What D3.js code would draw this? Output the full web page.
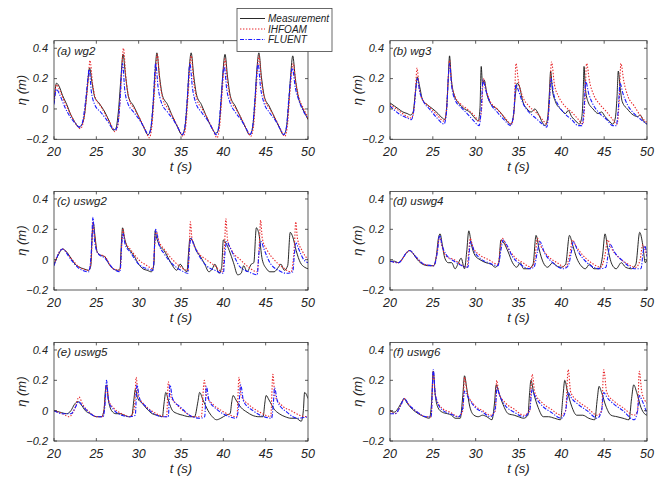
<!DOCTYPE html>
<html>
<head>
<meta charset="utf-8">
<title>Free surface elevation</title>
<style>
  body { margin: 0; background: #fff; }
  svg text { font-family: "Liberation Sans", Arial, sans-serif; font-style: italic; fill: #222; }
  .box { fill: none; stroke: #333; stroke-width: 0.8; }
  .tick { stroke: #333; stroke-width: 0.8; }
  .meas { fill: none; stroke: #111; stroke-width: 0.9; }
  .ihf { fill: none; stroke: #e8262a; stroke-width: 1.1; stroke-dasharray: 1.4,1.6; }
  .flu { fill: none; stroke: #1a1aff; stroke-width: 1.1; stroke-dasharray: 4,1.5,1.2,1.5; }
</style>
</head>
<body>
<svg width="669" height="485"></svg>
<script src="https://cdnjs.cloudflare.com/ajax/libs/d3/7.8.5/d3.min.js"></script>
<script>
// axis settings
var xTicks = [20, 25, 30, 35, 40, 45, 50];
var yTicks = [-0.2, 0, 0.2, 0.4];
var seriesNames = ["Measurement", "IHFOAM", "FLUENT"];
var panelTitles = ["(a) wg2", "(b) wg3", "(c) uswg2", "(d) uswg4", "(e) uswg5", "(f) uswg6"];

// (a) wg2
var wg2_meas = [[20,0.04],[20.3,0.17],[20.6,0.15],[21,0.09],[21.5,0.03],[22,-0.04],[22.5,-0.09],[22.9,-0.12],[23.2,-0.11],[23.6,-0.04],[23.9,0.12],[24.2,0.27],[24.5,0.17],[24.8,0.08],[25.3,0.04],[26,-0.02],[26.6,-0.09],[27,-0.14],[27.3,-0.13],[27.6,-0.02],[27.9,0.2],[28.15,0.36],[28.45,0.22],[28.8,0.08],[29.4,0.02],[30,-0.05],[30.6,-0.12],[31.1,-0.17],[31.4,-0.14],[31.7,0.02],[31.95,0.25],[32.15,0.37],[32.45,0.22],[32.8,0.09],[33.4,0.03],[34,-0.05],[34.6,-0.12],[35.1,-0.17],[35.4,-0.14],[35.7,0.02],[35.95,0.25],[36.2,0.37],[36.5,0.22],[36.85,0.09],[37.4,0.03],[38,-0.05],[38.6,-0.12],[39.1,-0.16],[39.4,-0.14],[39.7,0.02],[39.95,0.24],[40.2,0.36],[40.5,0.21],[40.85,0.08],[41.4,0.02],[42,-0.05],[42.6,-0.12],[43.1,-0.17],[43.4,-0.14],[43.7,0.02],[43.95,0.25],[44.2,0.37],[44.5,0.21],[44.85,0.08],[45.4,0.02],[46,-0.05],[46.6,-0.12],[47.1,-0.17],[47.4,-0.14],[47.7,0.02],[47.95,0.22],[48.2,0.35],[48.5,0.2],[48.85,0.08],[49.4,0.0],[50,-0.07]];
var wg2_ihf = [[20,0.05],[20.3,0.16],[20.7,0.12],[21.3,0.04],[22,-0.04],[22.6,-0.1],[23.1,-0.13],[23.4,-0.1],[23.8,0.05],[24.05,0.2],[24.25,0.32],[24.55,0.17],[24.9,0.07],[25.5,0.02],[26.2,-0.05],[26.8,-0.11],[27.2,-0.15],[27.5,-0.12],[27.8,0.05],[28.0,0.25],[28.2,0.4],[28.5,0.2],[28.9,0.06],[29.5,0.0],[30.2,-0.07],[30.8,-0.14],[31.25,-0.19],[31.55,-0.12],[31.85,0.1],[32.2,0.36],[32.5,0.18],[32.9,0.06],[33.5,0.0],[34.2,-0.07],[34.8,-0.14],[35.25,-0.18],[35.55,-0.12],[35.85,0.1],[36.2,0.35],[36.5,0.18],[36.9,0.06],[37.5,0.0],[38.2,-0.07],[38.8,-0.14],[39.25,-0.19],[39.55,-0.12],[39.85,0.1],[40.2,0.33],[40.5,0.17],[40.9,0.06],[41.5,0.0],[42.2,-0.07],[42.8,-0.14],[43.25,-0.18],[43.55,-0.12],[43.85,0.1],[44.2,0.35],[44.5,0.18],[44.9,0.06],[45.5,0.0],[46.2,-0.07],[46.8,-0.14],[47.25,-0.18],[47.55,-0.12],[47.85,0.1],[48.25,0.3],[48.55,0.18],[48.95,0.07],[49.5,0.0],[50,-0.06]];
var wg2_flu = [[20,0.03],[20.3,0.13],[20.7,0.09],[21.3,0.01],[22,-0.06],[22.6,-0.1],[23.0,-0.12],[23.3,-0.1],[23.7,0.04],[24.0,0.2],[24.15,0.26],[24.4,0.12],[24.8,0.03],[25.5,-0.02],[26.2,-0.07],[26.8,-0.12],[27.2,-0.14],[27.5,-0.11],[27.8,0.06],[28.0,0.26],[28.1,0.3],[28.35,0.13],[28.7,0.04],[29.4,-0.02],[30.2,-0.08],[30.8,-0.14],[31.15,-0.17],[31.45,-0.12],[31.75,0.08],[32.0,0.3],[32.3,0.14],[32.7,0.04],[33.4,-0.02],[34.2,-0.08],[34.8,-0.14],[35.15,-0.17],[35.45,-0.12],[35.75,0.08],[36.05,0.3],[36.35,0.14],[36.75,0.04],[37.4,-0.02],[38.2,-0.08],[38.8,-0.14],[39.15,-0.17],[39.45,-0.12],[39.75,0.08],[40.1,0.28],[40.4,0.13],[40.8,0.04],[41.4,-0.02],[42.2,-0.08],[42.8,-0.14],[43.15,-0.17],[43.45,-0.12],[43.75,0.08],[44.1,0.3],[44.4,0.14],[44.8,0.04],[45.4,-0.02],[46.2,-0.08],[46.8,-0.14],[47.15,-0.17],[47.45,-0.12],[47.75,0.08],[48.15,0.27],[48.5,0.14],[48.9,0.06],[49.5,-0.02],[50,-0.06]];

// (b) wg3
var wg3_meas = [[20,0.04],[20.5,0.02],[21,0.0],[21.5,-0.02],[22,-0.03],[22.4,-0.04],[22.7,-0.02],[22.95,0.1],[23.2,0.21],[23.45,0.15],[23.8,0.06],[24.3,0.03],[25,0.0],[25.6,-0.03],[26.1,-0.06],[26.4,-0.07],[26.6,0.0],[26.8,0.2],[26.95,0.35],[27.15,0.2],[27.5,0.09],[28,0.04],[28.7,0.0],[29.3,-0.02],[29.9,-0.06],[30.3,-0.08],[30.5,0.0],[30.65,0.28],[30.8,0.16],[31.0,0.19],[31.3,0.1],[31.8,0.03],[32.5,0.0],[33,-0.03],[33.5,-0.07],[34.1,-0.1],[34.4,-0.05],[34.65,0.1],[34.85,0.17],[35.1,0.15],[35.5,0.05],[36.0,0.0],[36.5,-0.02],[36.9,0.0],[37.3,-0.03],[37.8,-0.09],[38.1,-0.11],[38.4,-0.06],[38.6,0.1],[38.75,0.25],[38.95,0.13],[39.3,0.05],[39.9,0.0],[40.5,-0.03],[40.8,-0.01],[41.2,-0.05],[41.7,-0.08],[42.1,-0.1],[42.4,-0.05],[42.55,0.1],[42.65,0.28],[42.8,0.14],[43.1,0.05],[43.7,0.0],[44.3,-0.03],[44.7,-0.02],[45.1,-0.05],[45.6,-0.08],[46.0,-0.1],[46.3,-0.06],[46.5,0.08],[46.65,0.25],[46.85,0.15],[47.1,0.05],[47.7,0.0],[48.4,-0.04],[48.9,-0.05],[49.2,-0.04],[49.6,-0.08],[50,-0.1]];
var wg3_ihf = [[20,0.03],[21,-0.01],[22,-0.05],[22.5,-0.06],[22.8,0.0],[23.0,0.15],[23.15,0.27],[23.4,0.14],[23.8,0.06],[24.5,0.02],[25.5,-0.04],[26.3,-0.08],[26.6,0.0],[26.8,0.2],[26.95,0.32],[27.2,0.17],[27.6,0.08],[28.3,0.03],[29,0.0],[29.8,-0.04],[30.4,-0.08],[30.7,0.0],[30.9,0.2],[31.2,0.13],[31.7,0.05],[32.5,0.0],[33.3,-0.05],[34.2,-0.1],[34.5,0.0],[34.7,0.3],[35.0,0.18],[35.5,0.08],[36.2,0.02],[37,-0.02],[37.8,-0.07],[38.3,-0.1],[38.6,0.05],[38.85,0.31],[39.2,0.16],[39.7,0.08],[40.4,0.02],[41.2,-0.02],[42.0,-0.07],[42.5,-0.1],[42.75,0.05],[42.95,0.3],[43.3,0.18],[43.8,0.09],[44.5,0.03],[45.3,-0.02],[46.0,-0.07],[46.5,-0.1],[46.75,0.05],[46.95,0.3],[47.3,0.18],[47.8,0.08],[48.5,0.02],[49.3,-0.05],[50,-0.09]];
var wg3_flu = [[20,0.02],[21,-0.03],[22,-0.06],[22.5,-0.07],[22.8,0.0],[23.05,0.15],[23.2,0.2],[23.45,0.12],[23.9,0.05],[24.6,0.0],[25.5,-0.06],[26.3,-0.1],[26.6,-0.02],[26.8,0.2],[26.95,0.3],[27.2,0.15],[27.6,0.06],[28.3,0.01],[29,-0.03],[29.8,-0.08],[30.4,-0.11],[30.65,0.0],[30.85,0.19],[31.2,0.12],[31.7,0.04],[32.5,-0.02],[33.3,-0.07],[34.1,-0.11],[34.45,-0.02],[34.7,0.16],[35.0,0.12],[35.5,0.04],[36.2,-0.02],[37,-0.06],[37.8,-0.1],[38.3,-0.12],[38.55,0.0],[38.8,0.2],[39.1,0.1],[39.6,0.03],[40.4,-0.03],[41.2,-0.07],[42.0,-0.11],[42.4,-0.11],[42.65,0.0],[42.85,0.18],[43.2,0.1],[43.7,0.03],[44.5,-0.03],[45.3,-0.07],[46.0,-0.11],[46.4,-0.11],[46.65,0.0],[46.85,0.17],[47.2,0.1],[47.7,0.03],[48.5,-0.03],[49.3,-0.07],[50,-0.1]];

// (c) uswg2
var uswg2_meas = [[20,-0.03],[20.5,0.03],[21,0.07],[21.5,0.05],[22,0.01],[22.5,-0.03],[23,-0.05],[23.5,-0.06],[24.1,-0.07],[24.35,-0.04],[24.5,0.15],[24.65,0.24],[24.85,0.15],[25.1,0.05],[25.5,0.03],[26,0.02],[26.5,-0.03],[27,-0.06],[27.5,-0.07],[27.8,-0.06],[27.95,0.1],[28.1,0.21],[28.3,0.15],[28.6,0.09],[29,0.06],[29.5,0.02],[30,-0.03],[30.5,-0.06],[31,-0.07],[31.5,-0.08],[31.8,-0.03],[31.95,0.19],[32.1,0.15],[32.4,0.1],[33,0.06],[33.6,0.0],[34,-0.04],[34.5,-0.07],[34.9,-0.03],[35.3,-0.06],[35.7,-0.08],[35.9,0.05],[36.05,0.14],[36.4,0.12],[36.8,0.06],[37.3,0.02],[37.8,-0.03],[38.3,-0.08],[38.7,-0.06],[39,-0.03],[39.5,-0.09],[39.8,-0.05],[40.0,0.13],[40.3,0.11],[40.7,0.06],[41.2,-0.02],[41.7,-0.1],[42.1,-0.09],[42.4,-0.04],[42.8,-0.08],[43.3,-0.03],[43.6,-0.02],[43.9,0.21],[44.2,0.17],[44.6,0.0],[45.1,-0.06],[45.5,-0.08],[46,-0.08],[46.5,-0.05],[46.8,-0.03],[47.2,-0.07],[47.6,-0.04],[47.9,0.18],[48.2,0.15],[48.6,0.06],[49.1,-0.02],[49.6,-0.05],[50,-0.06]];
var uswg2_ihf = [[20,-0.03],[21,0.07],[22,0.01],[23,-0.05],[24.1,-0.07],[24.4,0.0],[24.6,0.25],[24.8,0.15],[25.2,0.04],[26,0.02],[27,-0.06],[27.8,-0.07],[28.0,0.1],[28.15,0.2],[28.4,0.12],[29,0.07],[30,0.0],[31,-0.04],[31.7,-0.06],[31.9,0.1],[32.05,0.19],[32.4,0.12],[33,0.07],[34,0.0],[35,-0.05],[35.8,-0.07],[36.0,0.1],[36.1,0.25],[36.3,0.14],[37,0.05],[38,0.0],[39,-0.04],[39.9,-0.08],[40.15,0.1],[40.3,0.27],[40.5,0.13],[41,0.06],[42,0.0],[43,-0.05],[44,-0.08],[44.25,0.1],[44.4,0.26],[44.6,0.14],[45.2,0.06],[46,0.0],[47,-0.05],[48,-0.08],[48.4,0.1],[48.55,0.25],[48.75,0.14],[49.3,0.06],[50,0.0]];
var uswg2_flu = [[20,-0.04],[21,0.07],[22,0.0],[23,-0.06],[24.1,-0.08],[24.4,0.05],[24.6,0.28],[24.8,0.12],[25.2,0.04],[26,0.01],[27,-0.06],[27.8,-0.08],[28.0,0.1],[28.15,0.17],[28.4,0.1],[29,0.05],[30,-0.03],[31,-0.06],[31.7,-0.07],[31.9,0.12],[32.0,0.2],[32.4,0.1],[33,0.04],[34,-0.03],[35,-0.07],[35.8,-0.09],[36.0,0.08],[36.2,0.14],[36.5,0.1],[37,0.04],[38,-0.04],[39,-0.07],[40.0,-0.09],[40.2,0.05],[40.4,0.12],[40.7,0.09],[41.3,0.02],[42,-0.05],[43,-0.08],[44,-0.1],[44.2,0.04],[44.45,0.12],[44.8,0.07],[45.5,-0.02],[46.5,-0.07],[47.5,-0.09],[48.2,-0.08],[48.4,0.04],[48.6,0.11],[48.9,0.07],[49.5,0.0],[50,-0.02]];

// (d) uswg4
var uswg4_meas = [[20,-0.01],[20.5,-0.01],[21,-0.02],[21.5,0.01],[22,0.05],[22.3,0.06],[22.7,0.04],[23.2,0.0],[23.8,-0.03],[24.5,-0.04],[25.1,-0.04],[25.4,0.02],[25.65,0.14],[25.85,0.17],[26.1,0.1],[26.4,0.01],[26.8,-0.02],[27.2,-0.02],[27.6,-0.06],[28.0,-0.02],[28.3,0.01],[28.7,-0.06],[28.95,0.05],[29.2,0.19],[29.5,0.1],[29.9,0.03],[30.5,0.0],[31.2,-0.02],[31.8,-0.03],[32.3,-0.05],[32.7,-0.02],[32.95,0.13],[33.3,0.11],[33.8,0.05],[34.3,-0.02],[34.8,-0.05],[35.2,-0.02],[35.6,-0.06],[36.2,-0.06],[36.7,-0.03],[37.05,0.16],[37.4,0.07],[37.9,-0.02],[38.4,-0.05],[39,-0.02],[39.4,-0.04],[40.0,-0.05],[40.5,-0.03],[40.95,0.16],[41.3,0.1],[41.8,0.01],[42.3,-0.04],[42.8,-0.06],[43.3,-0.03],[43.8,-0.06],[44.4,-0.06],[44.8,0.02],[45.1,0.17],[45.4,0.08],[45.9,-0.03],[46.4,-0.06],[47.0,-0.02],[47.5,-0.05],[48.2,-0.06],[48.7,-0.03],[49.15,0.18],[49.5,0.1],[49.8,-0.02],[50,0.0]];
var uswg4_ihf = [[20,-0.01],[21,-0.02],[22,0.05],[22.3,0.06],[23,0.02],[24,-0.03],[25.1,-0.04],[25.5,0.05],[25.8,0.15],[26.1,0.08],[26.6,0.02],[27.5,0.0],[28.5,-0.04],[29.0,-0.05],[29.2,0.06],[29.35,0.14],[29.7,0.08],[30.5,0.03],[31.5,0.0],[32.6,-0.03],[32.9,0.08],[33.1,0.14],[33.6,0.09],[34.5,0.02],[35.5,-0.02],[36.5,-0.05],[36.9,0.0],[37.2,0.14],[37.6,0.09],[38.5,0.02],[39.5,-0.02],[40.5,-0.05],[41.0,0.04],[41.3,0.13],[41.7,0.09],[42.5,0.03],[43.5,-0.02],[44.6,-0.05],[45.1,0.03],[45.4,0.13],[45.8,0.08],[46.6,0.02],[47.5,-0.02],[48.7,-0.05],[49.2,0.0],[49.5,0.1],[49.8,0.06],[50,0.02]];
var uswg4_flu = [[20,-0.01],[21,-0.02],[22,0.05],[22.3,0.06],[23,0.02],[24,-0.03],[25.1,-0.04],[25.5,0.04],[25.8,0.16],[26.1,0.09],[26.6,0.03],[27.5,-0.01],[28.4,-0.04],[29.1,-0.05],[29.25,0.05],[29.4,0.12],[29.8,0.06],[30.5,0.01],[31.5,-0.02],[32.6,-0.04],[33.0,0.08],[33.2,0.13],[33.6,0.1],[34.3,0.02],[35.2,-0.03],[36.3,-0.06],[36.8,-0.05],[37.2,0.05],[37.5,0.12],[38,0.05],[39,-0.02],[40.3,-0.06],[40.8,-0.04],[41.2,0.06],[41.4,0.12],[41.9,0.06],[43,-0.02],[44.5,-0.06],[45.2,-0.05],[45.5,0.05],[45.7,0.1],[46.2,0.05],[47.2,-0.01],[48.5,-0.06],[49.3,-0.06],[49.55,0.05],[49.75,0.09],[50,0.02]];

// (e) uswg5
var uswg5_meas = [[20,0.0],[20.7,-0.01],[21.5,-0.02],[22.0,0.0],[22.4,0.04],[22.8,0.06],[23.2,0.04],[23.7,0.0],[24.3,-0.02],[25,-0.04],[25.6,-0.04],[25.9,0.0],[26.05,0.12],[26.2,0.17],[26.4,0.08],[26.8,0.0],[27.3,-0.02],[27.8,-0.02],[28.3,-0.03],[28.8,-0.04],[29.2,-0.03],[29.45,0.08],[29.6,0.14],[29.9,0.08],[30.4,0.05],[31,0.01],[31.6,-0.02],[32.2,-0.03],[32.8,-0.04],[33.0,0.05],[33.2,0.12],[33.5,0.07],[34,0.0],[34.6,-0.02],[35.2,-0.03],[36,-0.04],[36.6,-0.04],[37.0,0.06],[37.2,0.12],[37.6,0.07],[38.2,0.0],[38.7,-0.04],[39.2,-0.06],[39.7,-0.05],[40.3,-0.03],[40.8,-0.02],[41.0,0.06],[41.15,0.1],[41.5,0.07],[42.1,0.02],[42.8,-0.01],[43.4,-0.03],[44.2,-0.04],[44.7,-0.04],[44.9,0.05],[45.05,0.1],[45.4,0.07],[46,0.01],[46.6,-0.02],[47.3,-0.04],[48,-0.05],[48.6,-0.05],[49.2,-0.07],[49.45,0.0],[49.6,0.12],[50,0.08]];
var uswg5_ihf = [[20,0.0],[21,-0.02],[21.8,-0.04],[22.5,0.02],[22.95,0.09],[23.4,0.04],[24.2,-0.01],[25,-0.04],[25.7,-0.04],[26.0,0.05],[26.2,0.17],[26.5,0.06],[27,0.02],[28,-0.02],[29,-0.04],[29.5,0.02],[29.7,0.22],[29.95,0.1],[30.5,0.05],[31.5,0.0],[32.5,-0.03],[33.3,-0.04],[33.5,0.19],[33.75,0.1],[34.5,0.04],[35.5,-0.01],[36.5,-0.04],[37.4,-0.04],[37.75,0.2],[38.0,0.1],[38.8,0.04],[39.8,0.0],[40.8,-0.03],[41.6,-0.04],[41.85,0.22],[42.1,0.1],[43,0.04],[44,0.0],[45,-0.03],[45.6,-0.04],[45.85,0.24],[46.1,0.1],[47,0.03],[48,0.0],[49,-0.03],[50,-0.04]];
var uswg5_flu = [[20,0.0],[21,-0.02],[22,-0.02],[22.6,0.03],[22.9,0.06],[23.4,0.03],[24.3,-0.02],[25.2,-0.04],[25.8,-0.04],[26.05,0.06],[26.2,0.2],[26.45,0.06],[27,0.01],[28,-0.03],[29,-0.04],[29.6,-0.03],[29.8,0.17],[30.1,0.08],[30.8,0.03],[31.8,-0.02],[32.8,-0.04],[33.5,-0.04],[33.7,0.17],[34.0,0.08],[35,0.02],[36,-0.03],[37.2,-0.05],[37.8,-0.04],[38.0,0.16],[38.3,0.07],[39.2,0.01],[40.3,-0.03],[41.5,-0.05],[41.85,0.04],[42.05,0.17],[42.4,0.06],[43.5,0.0],[44.8,-0.04],[45.7,-0.05],[45.9,0.04],[46.05,0.15],[46.4,0.06],[47.5,-0.01],[48.8,-0.05],[50,-0.04]];

// (f) uswg6
var uswg6_meas = [[20,0.0],[20.5,-0.01],[21,0.02],[21.4,0.06],[21.65,0.08],[22,0.05],[22.6,0.01],[23.3,-0.02],[24,-0.04],[24.6,-0.05],[24.85,0.05],[25.05,0.26],[25.25,0.12],[25.6,0.02],[26.1,-0.01],[26.7,-0.02],[27.2,-0.03],[27.6,-0.05],[28.2,-0.05],[28.5,0.1],[28.7,0.23],[28.95,0.15],[29.3,0.03],[29.8,-0.03],[30.3,-0.04],[30.8,-0.03],[31.3,-0.04],[31.9,-0.06],[32.2,0.05],[32.4,0.17],[32.7,0.12],[33.2,0.04],[33.8,-0.02],[34.5,-0.03],[35,-0.04],[35.6,-0.05],[36.1,-0.03],[36.3,0.12],[36.45,0.2],[36.8,0.11],[37.3,0.02],[37.9,-0.04],[38.5,-0.04],[39.2,-0.05],[39.9,-0.06],[40.2,0.1],[40.4,0.2],[40.7,0.13],[41.2,0.03],[41.8,-0.03],[42.5,-0.03],[43.2,-0.05],[43.9,-0.06],[44.2,0.08],[44.4,0.16],[44.7,0.12],[45.2,0.03],[45.8,-0.03],[46.5,-0.04],[47.2,-0.05],[47.9,-0.06],[48.2,0.08],[48.45,0.17],[48.8,0.12],[49.3,0.02],[49.7,-0.02],[50,-0.03]];
var uswg6_ihf = [[20,0.0],[20.6,-0.02],[21.3,0.04],[21.65,0.08],[22.2,0.04],[23.2,-0.01],[24.2,-0.04],[24.8,-0.04],[25.05,0.26],[25.3,0.1],[26,0.02],[27,-0.01],[28,-0.04],[28.5,0.0],[28.7,0.22],[29,0.12],[29.8,0.04],[30.8,0.0],[31.8,-0.03],[32.3,0.0],[32.45,0.2],[32.7,0.12],[33.5,0.05],[34.5,0.01],[35.6,-0.03],[36.3,0.0],[36.6,0.24],[36.9,0.12],[37.8,0.05],[38.8,0.01],[40,-0.03],[40.5,0.0],[40.8,0.27],[41.1,0.12],[42,0.06],[43,0.02],[44.2,-0.03],[44.7,0.0],[44.95,0.27],[45.3,0.12],[46.2,0.06],[47.2,0.02],[48.5,-0.03],[48.9,0.0],[49.1,0.26],[49.4,0.12],[50,0.05]];
var uswg6_flu = [[20,-0.02],[20.6,-0.02],[21.3,0.04],[21.65,0.08],[22.2,0.04],[23.2,-0.01],[24.2,-0.04],[24.8,-0.04],[25.05,0.27],[25.3,0.1],[26,0.01],[27,-0.02],[28,-0.04],[28.5,0.02],[28.7,0.13],[29,0.1],[29.8,0.03],[30.8,-0.01],[31.8,-0.04],[32.3,0.02],[32.5,0.15],[32.8,0.1],[33.5,0.03],[34.5,-0.01],[35.6,-0.04],[36.3,0.0],[36.6,0.14],[36.9,0.1],[37.8,0.03],[38.8,-0.01],[40,-0.05],[40.5,0.0],[40.8,0.12],[41.1,0.09],[42,0.04],[43,0.0],[44.2,-0.05],[44.7,0.0],[44.95,0.12],[45.3,0.09],[46.2,0.04],[47.2,0.0],[48.5,-0.06],[48.9,0.0],[49.1,0.1],[49.4,0.07],[50,-0.02]];

var panelData = [
  [wg2_meas, wg2_ihf, wg2_flu],
  [wg3_meas, wg3_ihf, wg3_flu],
  [uswg2_meas, uswg2_ihf, uswg2_flu],
  [uswg4_meas, uswg4_ihf, uswg4_flu],
  [uswg5_meas, uswg5_ihf, uswg5_flu],
  [uswg6_meas, uswg6_ihf, uswg6_flu]
];

var svg = d3.select("svg");
var classes = ["meas", "ihf", "flu"];

// plot box geometry
var colLeft = [54, 390], colWidth = [254, 257];
var rowBottom = [139.3, 290, 441];
var pxPerUnit = 151.7;

panelData.forEach(function(series, i) {
  var col = i % 2, row = Math.floor(i / 2);
  var left = colLeft[col], right = left + colWidth[col];
  var bottom = rowBottom[row], top = bottom - 0.65 * pxPerUnit;

  var x = d3.scaleLinear().domain([20, 50]).range([left, right]);
  var y = d3.scaleLinear().domain([-0.2, 0.45]).range([bottom, top]);

  var g = svg.append("g");

  g.append("clipPath").attr("id", "clip" + i)
    .append("rect").attr("x", left).attr("y", top)
    .attr("width", right - left).attr("height", bottom - top);

  var line = d3.line()
    .x(function(d) { return x(d[0]); })
    .y(function(d) { return y(d[1]); })
    .curve(d3.curveMonotoneX);

  series.forEach(function(s, k) {
    g.append("path")
      .datum(s)
      .attr("class", classes[k])
      .attr("clip-path", "url(#clip" + i + ")")
      .attr("d", line);
  });

  g.append("rect").attr("class", "box")
    .attr("x", left).attr("y", top)
    .attr("width", right - left).attr("height", bottom - top);

  // inward ticks on all sides
  xTicks.forEach(function(t) {
    g.append("line").attr("class", "tick")
      .attr("x1", x(t)).attr("x2", x(t)).attr("y1", bottom).attr("y2", bottom - 3);
    g.append("line").attr("class", "tick")
      .attr("x1", x(t)).attr("x2", x(t)).attr("y1", top).attr("y2", top + 3);
    g.append("text")
      .attr("x", x(t)).attr("y", bottom + 16.5)
      .attr("text-anchor", "middle")
      .style("font-size", "12.5px")
      .text(t);
  });
  yTicks.forEach(function(t) {
    g.append("line").attr("class", "tick")
      .attr("x1", left).attr("x2", left + 3).attr("y1", y(t)).attr("y2", y(t));
    g.append("line").attr("class", "tick")
      .attr("x1", right).attr("x2", right - 3).attr("y1", y(t)).attr("y2", y(t));
    g.append("text")
      .attr("x", left - 6).attr("y", y(t)).attr("dy", "0.35em")
      .attr("text-anchor", "end")
      .style("font-size", "11px")
      .text(t === 0 ? "0" : d3.format(".1f")(t));
  });

  g.append("text")
    .attr("x", (left + right) / 2).attr("y", bottom + 32)
    .attr("text-anchor", "middle")
    .style("font-size", "13px")
    .text("t (s)");

  g.append("text")
    .attr("transform", "translate(" + (left - 33) + "," + ((top + bottom) / 2) + ") rotate(-90)")
    .attr("dy", "0.35em")
    .attr("text-anchor", "middle")
    .style("font-size", "13px")
    .text("\u03b7 (m)");

  g.append("text")
    .attr("x", left + 3).attr("y", top + 14)
    .style("font-size", "11.5px")
    .text(panelTitles[i]);
});

// legend
var legend = svg.append("g");
legend.append("rect")
  .attr("x", 237).attr("y", 8.5).attr("width", 95).attr("height", 43)
  .attr("fill", "#fff").attr("stroke", "#444").attr("stroke-width", 0.8);
seriesNames.forEach(function(name, k) {
  var ly = 18.5 + k * 10.5;
  legend.append("line").attr("class", classes[k])
    .attr("x1", 240).attr("x2", 265).attr("y1", ly).attr("y2", ly);
  legend.append("text")
    .attr("x", 268).attr("y", ly).attr("dy", "0.35em")
    .style("font-size", "10px")
    .text(name);
});
</script>
</body>
</html>
